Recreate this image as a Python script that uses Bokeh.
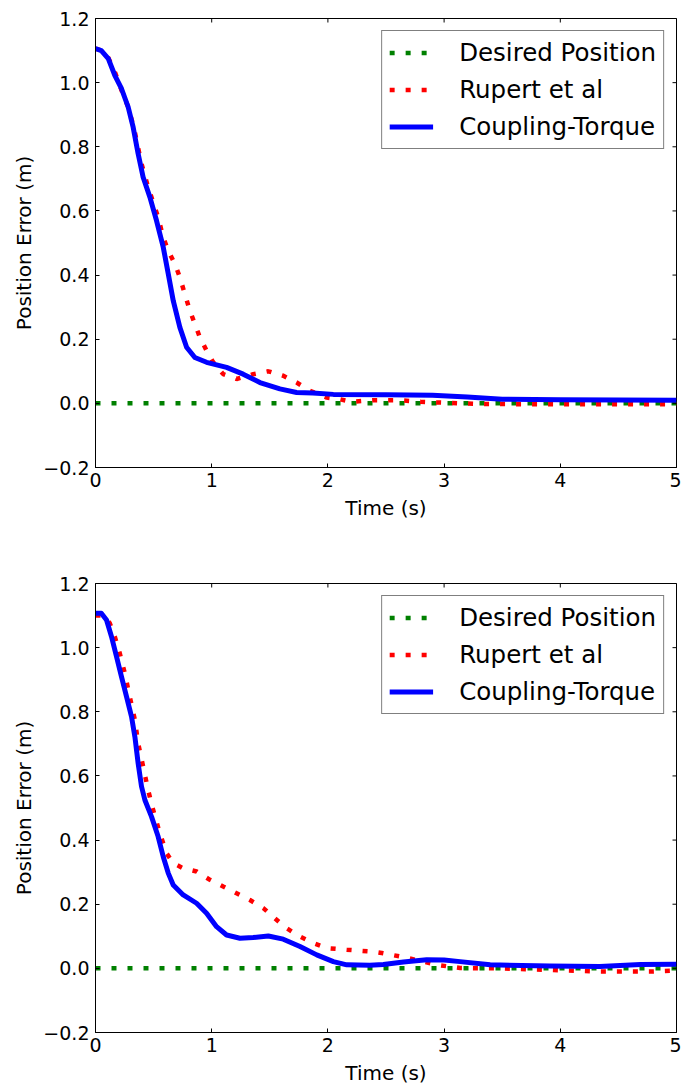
import math
from bokeh.plotting import figure
from bokeh.layouts import column
from bokeh.models import (Range1d, FixedTicker, Legend, LegendItem, CustomJSTickFormatter)
from bokeh.embed import file_html
from bokeh.resources import INLINE

# ---------------- data ----------------
desired_t = [0.0, 5.0]
desired_v = [0.0, 0.0]

# Top panel
top_rupert_t = [0.0, 0.05, 0.11, 0.17, 0.22, 0.28, 0.33, 0.396, 0.453, 0.539, 0.583, 0.626,
                0.683, 0.726, 0.769, 0.812, 0.855, 0.898, 0.956, 1.013, 1.099, 1.214, 1.357,
                1.487, 1.616, 1.731, 1.846, 1.99, 2.10, 2.2, 2.4, 2.6, 2.8, 3.0, 3.3, 4.0, 5.0]
top_rupert_v = [1.106, 1.10, 1.078, 1.03, 0.98, 0.925, 0.86, 0.747, 0.674, 0.580, 0.518, 0.476,
                0.435, 0.393, 0.341, 0.289, 0.248, 0.206, 0.164, 0.128, 0.091, 0.076, 0.091,
                0.100, 0.086, 0.065, 0.039, 0.018, 0.013, 0.005, 0.010, 0.010, 0.005, 0.002,
                -0.002, -0.003, -0.003]

top_coupling_t = [0.0, 0.05, 0.11, 0.166, 0.224, 0.281, 0.324, 0.367, 0.41, 0.468, 0.525, 0.583,
                  0.626, 0.669, 0.726, 0.784, 0.855, 0.956, 1.128, 1.271, 1.415, 1.587, 1.731,
                  1.87, 2.047, 2.5, 2.9, 3.2, 3.5, 4.0, 5.0]
top_coupling_v = [1.106, 1.10, 1.075, 1.023, 0.981, 0.924, 0.861, 0.778, 0.705, 0.643, 0.570,
                  0.487, 0.404, 0.320, 0.237, 0.175, 0.143, 0.128, 0.112, 0.091, 0.065, 0.045,
                  0.034, 0.032, 0.028, 0.027, 0.025, 0.020, 0.013, 0.011, 0.010]

# Bottom panel
bot_rupert_t = [0.0, 0.07, 0.123, 0.166, 0.209, 0.252, 0.295, 0.339, 0.367, 0.41, 0.453, 0.496,
                0.554, 0.611, 0.669, 0.755, 0.87, 0.985, 1.099, 1.214, 1.329, 1.444, 1.544,
                1.645, 1.76, 1.874, 1.99, 2.162, 2.39, 2.477, 2.62, 2.765, 2.937, 3.138, 3.48,
                3.91, 4.34, 4.77, 5.0]
bot_rupert_v = [1.10, 1.10, 1.076, 1.034, 0.982, 0.920, 0.847, 0.774, 0.702, 0.629, 0.556,
                0.494, 0.421, 0.359, 0.328, 0.312, 0.302, 0.276, 0.255, 0.234, 0.213, 0.188,
                0.156, 0.125, 0.099, 0.079, 0.063, 0.058, 0.052, 0.047, 0.037, 0.026, 0.011,
                0.001, 0.0, -0.005, -0.010, -0.010, -0.007]

bot_coupling_t = [0.0, 0.05, 0.095, 0.138, 0.181, 0.224, 0.267, 0.31, 0.339, 0.367, 0.396,
                  0.425, 0.482, 0.539, 0.583, 0.626, 0.669, 0.755, 0.87, 0.956, 1.042, 1.128,
                  1.243, 1.357, 1.487, 1.616, 1.76, 1.904, 2.047, 2.162, 2.36, 2.477, 2.65,
                  2.85, 3.0, 3.138, 3.396, 3.91, 4.34, 4.69, 5.0]
bot_coupling_v = [1.107, 1.107, 1.086, 1.034, 0.972, 0.909, 0.847, 0.785, 0.722, 0.639, 0.567,
                  0.525, 0.473, 0.411, 0.348, 0.297, 0.260, 0.229, 0.203, 0.172, 0.130, 0.104,
                  0.094, 0.096, 0.101, 0.091, 0.068, 0.042, 0.021, 0.011, 0.010, 0.012, 0.020,
                  0.027, 0.026, 0.021, 0.011, 0.007, 0.006, 0.012, 0.013]

x_ticks = [0, 1, 2, 3, 4, 5]
y_ticks = [-0.2, 0.0, 0.2, 0.4, 0.6, 0.8, 1.0, 1.2]
legend_labels = ["Desired Position", "Rupert et al", "Coupling-Torque"]

FONT = "DejaVu Sans"
GREEN, RED, BLUE = "#008000", "#ff0000", "#0000ff"


def make_panel(height, border_bottom, r_t, r_v, c_t, c_v):
    x0, x1 = x_ticks[0], x_ticks[-1]
    y0, y1 = y_ticks[0], y_ticks[-1]
    p = figure(width=681, height=height, x_range=Range1d(x0, x1), y_range=Range1d(y0, y1),
               output_backend="svg", toolbar_location=None,
               min_border_left=95, min_border_right=5, min_border_top=18,
               min_border_bottom=border_bottom, x_axis_label="Time (s)",
               y_axis_label="Position Error (m)")
    p.grid.visible = False
    p.outline_line_color = "black"
    p.outline_line_width = 1
    p.background_fill_color = "white"
    p.border_fill_color = "white"

    yfmt = CustomJSTickFormatter(code="return (tick < -1e-9 ? '\u2212' : '') + Math.abs(tick).toFixed(1);")
    for ax in p.xaxis:
        ax.ticker = FixedTicker(ticks=x_ticks)
    for ax in p.yaxis:
        ax.ticker = FixedTicker(ticks=y_ticks)
        ax.formatter = yfmt
    for ax in p.axis:
        ax.major_tick_in = 4
        ax.major_tick_out = 0
        ax.minor_tick_in = 0
        ax.minor_tick_out = 0
        ax.major_label_text_font = FONT
        ax.major_label_text_font_size = "19px"
        ax.major_label_text_color = "black"
        ax.axis_label_text_font = FONT
        ax.axis_label_text_font_size = "20px"
        ax.axis_label_text_font_style = "normal"
        ax.axis_label_text_color = "black"
        ax.axis_line_color = "black"
        ax.major_tick_line_color = "black"
    p.xaxis.major_label_standoff = 5
    p.xaxis.axis_label_standoff = 6
    p.yaxis.major_label_standoff = 6
    p.yaxis.axis_label_standoff = 4

    g = p.line(desired_t, desired_v, line_color=GREEN, line_width=4.5, line_dash="5 11")
    r = p.line(r_t, r_v, line_color=RED, line_width=4.5, line_dash="5 11")
    c = p.line(c_t, c_v, line_color=BLUE, line_width=5, line_join="round")

    # mirrored inward ticks on top and right edges (matplotlib classic style)
    p.scatter(x_ticks, [y1] * len(x_ticks), marker="dash", size=8, angle=math.pi / 2,
              line_color="black", line_width=1)
    p.scatter([x1] * len(y_ticks), y_ticks, marker="dash", size=8, angle=0,
              line_color="black", line_width=1)

    legend = Legend(items=[LegendItem(label=legend_labels[0], renderers=[g]),
                           LegendItem(label=legend_labels[1], renderers=[r]),
                           LegendItem(label=legend_labels[2], renderers=[c])],
                    location="top_right", margin=12, padding=7, spacing=8,
                    glyph_width=44, glyph_height=25, label_height=25, label_standoff=26,
                    label_text_font=FONT, label_text_font_size="24.5px",
                    label_text_color="black",
                    border_line_color="black", border_line_width=1,
                    background_fill_color="white", background_fill_alpha=1.0)
    p.add_layout(legend)
    return p


p1 = make_panel(565, 98, top_rupert_t, top_rupert_v, top_coupling_t, top_coupling_v)
p2 = make_panel(522, 55, bot_rupert_t, bot_rupert_v, bot_coupling_t, bot_coupling_v)

layout = column(p1, p2, spacing=0)
open("out.html", "w").write(file_html(layout, INLINE))
